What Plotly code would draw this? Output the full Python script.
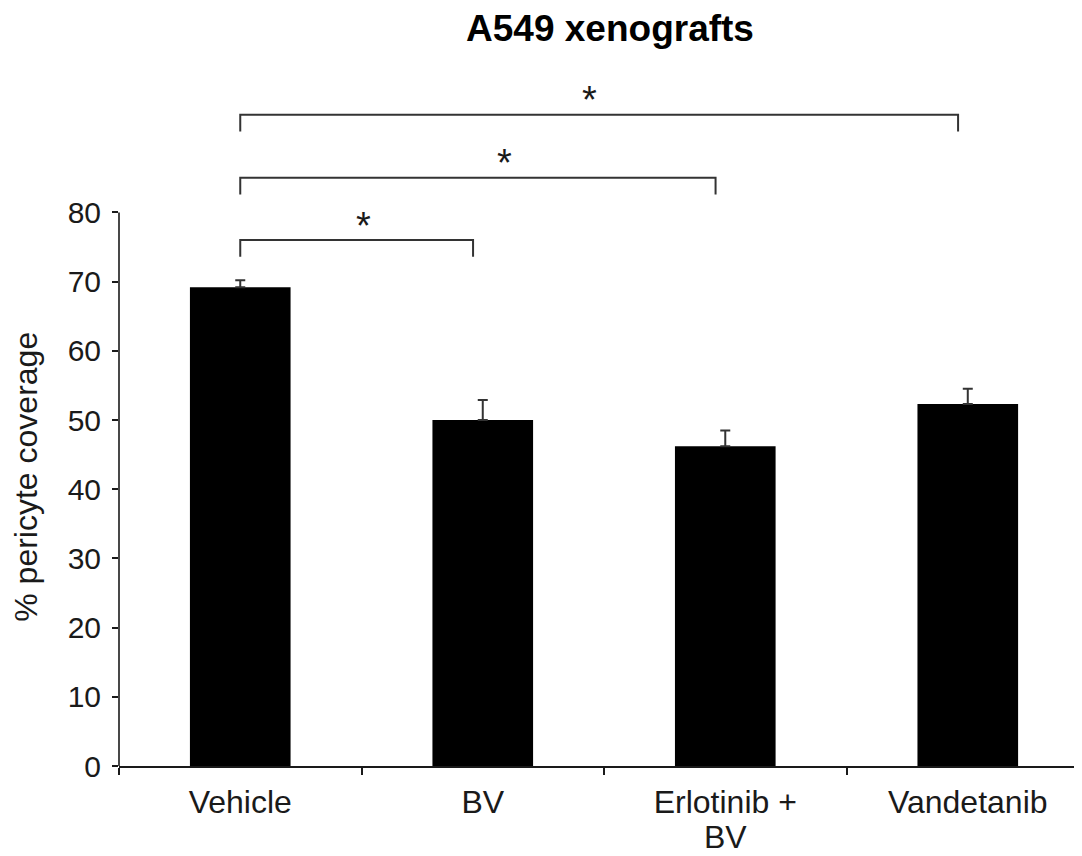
import plotly.graph_objects as go

# ---- data ----
categories = ["Vehicle", "BV", "Erlotinib + BV", "Vandetanib"]
label_line1 = ["Vehicle", "BV", "Erlotinib +", "Vandetanib"]
label_line2 = ["", "", "BV", ""]
coverage = [69.2, 50.0, 46.2, 52.3]
sem = [1.0, 2.9, 2.3, 2.2]
y_ticks = [0, 10, 20, 30, 40, 50, 60, 70, 80]

# significance comparisons (index pairs), bracket levels, labels
comparisons = [(0, 1), (0, 2), (0, 3)]
bracket_y = [76.0, 85.0, 94.1]
star_labels = ["*", "*", "*"]
star_x = [0.51, 1.09, 1.44]

# ---- style ----
FONT = "Liberation Sans, Arial, sans-serif"
INK = "#1a1a1a"
Y_MAX = 100
AXIS_TOP = 80
BRACKET_DROP = 2.4
RIGHT_INSET = 0.04
W, H = 1074, 848  # page body has an 8px margin
PLOT_H = 692.5

fig = go.Figure()
fig.add_trace(go.Bar(
    x=label_line1,
    y=coverage,
    width=0.415,
    marker=dict(color="black", line=dict(width=0)),
    error_y=dict(type="data", symmetric=False, array=sem,
                 arrayminus=[0] * len(sem), color="#333333",
                 thickness=2, width=5),
    hovertext=categories,
    showlegend=False,
))

shapes = []
# y axis line from 0 to 80 only
shapes.append(dict(type="line", xref="paper", yref="paper",
                   x0=0, x1=0, y0=0, y1=AXIS_TOP / Y_MAX,
                   line=dict(color=INK, width=1.6)))
for (a, b), yb in zip(comparisons, bracket_y):
    xa, xb = a, b - RIGHT_INSET
    shapes.append(dict(type="path", xref="x", yref="y",
                       path=f"M {xa},{yb - BRACKET_DROP} L {xa},{yb} L {xb},{yb} L {xb},{yb - BRACKET_DROP}",
                       line=dict(color="#333333", width=2)))

annotations = []
for sx, yb, lab in zip(star_x, bracket_y, star_labels):
    annotations.append(dict(x=sx, y=yb + 2.1, xref="x", yref="y",
                            text=lab, showarrow=False, yanchor="middle",
                            font=dict(size=38, color=INK, family=FONT)))
# second line of wrapped category labels
for i, txt in enumerate(label_line2):
    if txt:
        annotations.append(dict(x=i, y=-71 / PLOT_H, xref="x", yref="paper",
                                text=txt, showarrow=False, xanchor="center",
                                yanchor="middle",
                                font=dict(size=32, color=INK, family=FONT)))
annotations.append(dict(x=-93 / 963, y=0.418, xref="paper", yref="paper",
                        text="% pericyte coverage", textangle=-90,
                        showarrow=False, xanchor="center", yanchor="middle",
                        font=dict(size=32, color=INK, family=FONT)))

fig.update_layout(
    template="none",
    width=W, height=H,
    margin=dict(l=111, r=0, t=65.5, b=90, autoexpand=False),
    paper_bgcolor="white", plot_bgcolor="white",
    title=dict(text="<b>A549 xenografts</b>", x=602 / W, xref="container",
               xanchor="center", y=1 - 20 / H, yref="container", yanchor="middle",
               font=dict(size=37, color="black", family=FONT)),
    xaxis=dict(type="category", range=[-0.5, 3.471], showline=True, automargin=False,
               linecolor=INK, linewidth=1.6, ticks="outside", tickson="boundaries",
               ticklen=7, tickwidth=1.5, tickcolor=INK, showgrid=False,
               ticklabelstandoff=7,
               tickfont=dict(size=32, color=INK, family=FONT)),
    yaxis=dict(range=[0, Y_MAX], showline=False, tickmode="array", tickvals=y_ticks,
               automargin=False,
               ticks="outside", ticklen=6, tickwidth=1.5, tickcolor=INK,
               showgrid=False, zeroline=False, ticklabelstandoff=5,
               tickfont=dict(size=30, color=INK, family=FONT)),
    shapes=shapes,
    annotations=annotations,
    bargap=0.5,
)

fig.write_html("out.html")
